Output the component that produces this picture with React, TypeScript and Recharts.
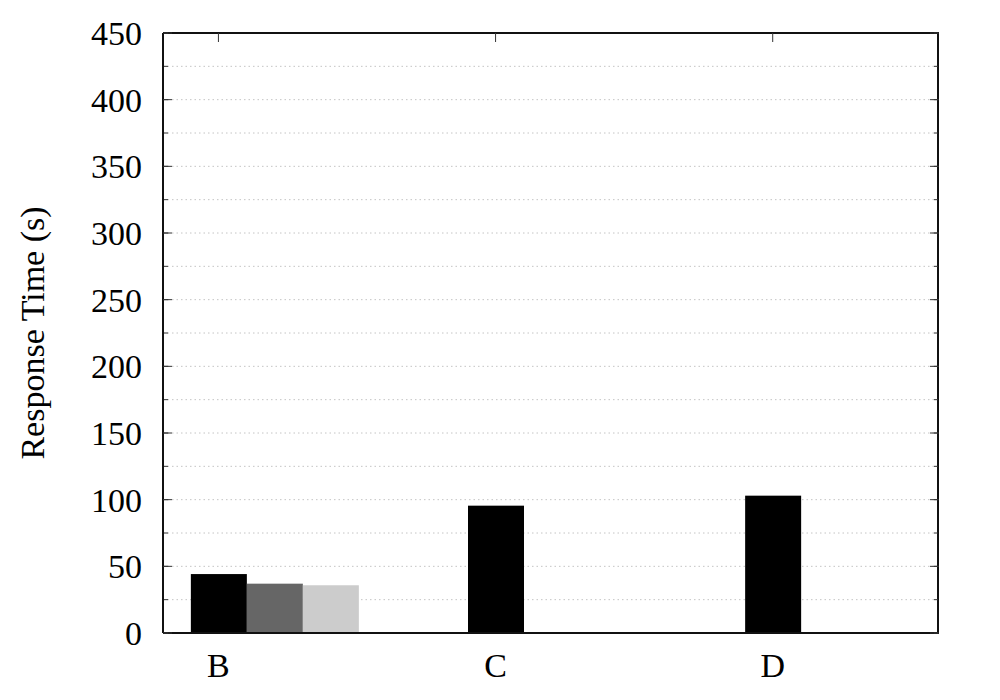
import React from "react";
import {
  BarChart,
  Bar,
  XAxis,
  YAxis,
  CartesianGrid,
  Label,
} from "recharts";

const categories = ["B", "C", "D"];
const seriesA = [44.2, 95.5, 103];
const seriesB = [37, null, null];
const seriesC = [35.8, null, null];

const majorTicks = [0, 50, 100, 150, 200, 250, 300, 350, 400, 450];
const minorTicks = [0, 25, 50, 75, 100, 125, 150, 175, 200, 225, 250, 275, 300, 325, 350, 375, 400, 425, 450];
const catTicks = [0, 1, 2];

const data = categories.map((name, i) => ({
  pos: i,
  name,
  a: seriesA[i],
  b: seriesB[i],
  c: seriesC[i],
}));

const font = "'Liberation Serif', 'Times New Roman', serif";
const frame = "#111";
const noLabel = () => <g />;

// gnuplot-style clusters: first bar sits on the tick, the rest to its right
const ShiftedBar = (props: any) => {
  const { x, y, width, height, fill } = props;
  if (!height) return null;
  return <rect x={x + width} y={y} width={width} height={height} fill={fill} />;
};

export default function App() {
  return (
    <div style={{ position: "absolute", left: 0, top: 0, background: "#fff" }}>
      <BarChart
        width={1000}
        height={700}
        data={data}
        margin={{ top: 33, right: 61, left: 0, bottom: 0 }}
        barGap={0}
        barSize={56}
      >
        <CartesianGrid
          yAxisId="left"
          xAxisId="bottom"
          vertical={false}
          horizontalValues={minorTicks}
          stroke="#c4c4c4"
          strokeDasharray="1.5 3"
        />
        <XAxis
          xAxisId="bottom"
          dataKey="pos"
          type="number"
          domain={[-0.2, 2.6]}
          allowDataOverflow
          ticks={catTicks}
          tickFormatter={(v: number) => categories[v]}
          height={67}
          tickLine={false}
          tickSize={0}
          tickMargin={20}
          axisLine={{ stroke: frame, strokeWidth: 2 }}
          tick={{ fill: "#000", fontSize: 34, fontFamily: font }}
        />
        <XAxis
          xAxisId="top"
          dataKey="pos"
          type="number"
          orientation="top"
          mirror
          domain={[-0.2, 2.6]}
          allowDataOverflow
          ticks={catTicks}
          height={1}
          tick={noLabel}
          tickSize={9}
          tickLine={{ stroke: "#333" }}
          axisLine={{ stroke: frame, strokeWidth: 2 }}
        />
        <YAxis
          yAxisId="left"
          type="number"
          domain={[0, 450]}
          allowDataOverflow
          ticks={majorTicks}
          width={163}
          tickLine={false}
          tickSize={0}
          tickMargin={21}
          axisLine={{ stroke: frame, strokeWidth: 2 }}
          tick={{ fill: "#000", fontSize: 34, fontFamily: font }}
        >
          <Label
            value="Response Time (s)"
            angle={-90}
            position="insideLeft"
            offset={32}
            style={{ textAnchor: "middle", fill: "#000", fontSize: 34, fontFamily: font }}
          />
        </YAxis>
        <YAxis
          yAxisId="minor"
          type="number"
          domain={[0, 450]}
          allowDataOverflow
          ticks={minorTicks}
          mirror
          width={1}
          tick={noLabel}
          tickSize={4}
          tickLine={{ stroke: "#333" }}
          axisLine={false}
        />
        <YAxis
          yAxisId="major"
          type="number"
          domain={[0, 450]}
          allowDataOverflow
          ticks={majorTicks}
          mirror
          width={1}
          tick={noLabel}
          tickSize={9}
          tickLine={{ stroke: "#333" }}
          axisLine={false}
        />
        <YAxis
          yAxisId="rightMinor"
          orientation="right"
          type="number"
          domain={[0, 450]}
          allowDataOverflow
          ticks={minorTicks}
          mirror
          width={1}
          tick={noLabel}
          tickSize={4}
          tickLine={{ stroke: "#333" }}
          axisLine={{ stroke: frame, strokeWidth: 2 }}
        />
        <YAxis
          yAxisId="rightMajor"
          orientation="right"
          type="number"
          domain={[0, 450]}
          allowDataOverflow
          ticks={majorTicks}
          mirror
          width={1}
          tick={noLabel}
          tickSize={9}
          tickLine={{ stroke: "#333" }}
          axisLine={false}
        />
        <Bar dataKey="a" xAxisId="bottom" yAxisId="left" fill="#000000" shape={ShiftedBar} isAnimationActive={false} />
        <Bar dataKey="b" xAxisId="bottom" yAxisId="left" fill="#666666" shape={ShiftedBar} isAnimationActive={false} />
        <Bar dataKey="c" xAxisId="bottom" yAxisId="left" fill="#cccccc" shape={ShiftedBar} isAnimationActive={false} />
      </BarChart>
    </div>
  );
}
